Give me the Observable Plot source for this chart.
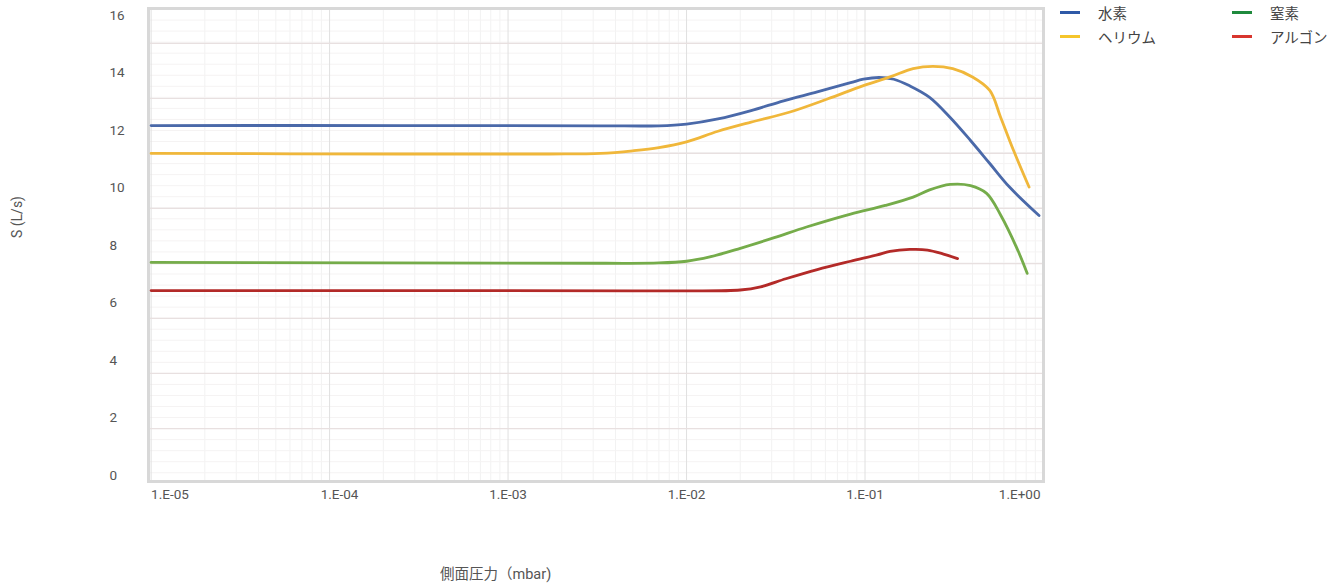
<!DOCTYPE html>
<html>
<head>
<meta charset="utf-8">
<script src="https://cdn.jsdelivr.net/npm/d3@7"></script>
<script src="https://cdn.jsdelivr.net/npm/@observablehq/plot@0.6"></script>
<style>
  body { margin: 0; background: #fff; font-family: Roboto, "Noto Sans CJK JP", sans-serif; }
  #wrap { position: relative; width: 1342px; height: 587px; overflow: hidden; }
  #wrap svg { position: absolute; left: 0; top: 0; }
  .key { position: absolute; font-size: 14.5px; color: #444; display: flex; align-items: center; white-space: nowrap; }
  .key i { display: inline-block; width: 20px; height: 3px; margin-right: 18px; }
  .ytitle { position: absolute; left: 17px; top: 217px; transform: translate(-50%, -50%) rotate(-90deg); font-size: 14px; color: #555; white-space: nowrap; }
  .xtitle { position: absolute; left: 440px; top: 562px; font-size: 14.5px; color: #555; white-space: nowrap; }
</style>
</head>
<body>
<div id="wrap"></div>
<script>
// Gas species and their colours (curve colour, legend key colour)
const gases = ["水素", "ヘリウム", "窒素", "アルゴン"];
const lineColors = ["#4a69a9", "#f0b73a", "#75ac4a", "#b32a28"];
const keyColors = ["#2f59a7", "#f5c52b", "#1f8a3d", "#d8352e"];

// Pumping speed S (L/s) against side pressure (mbar)
const pressureH2 = [1e-5, 2.5e-4, 3.3e-3, 7e-3, 0.01, 0.015, 0.023, 0.035, 0.054, 0.083, 0.098, 0.12, 0.145, 0.178, 0.23, 0.30, 0.39, 0.50, 0.645, 0.944];
const speedH2    = [12.17, 12.17, 12.16, 12.16, 12.22, 12.4, 12.69, 13.03, 13.34, 13.66, 13.78, 13.84, 13.78, 13.55, 13.15, 12.45, 11.65, 10.85, 10.03, 9.04];

const pressureHe = [1e-5, 2.5e-4, 1.7e-3, 3.3e-3, 5e-3, 7e-3, 0.01, 0.015, 0.023, 0.038, 0.062, 0.098, 0.138, 0.186, 0.24, 0.31, 0.40, 0.50, 0.575, 0.68, 0.83];
const speedHe    = [11.2, 11.18, 11.18, 11.2, 11.29, 11.4, 11.6, 11.97, 12.29, 12.64, 13.1, 13.56, 13.86, 14.15, 14.23, 14.15, 13.86, 13.39, 12.46, 11.3, 10.03];

const pressureN2 = [1e-5, 3.3e-3, 7e-3, 0.01, 0.0135, 0.02, 0.031, 0.047, 0.083, 0.13, 0.186, 0.23, 0.30, 0.39, 0.48, 0.575, 0.71, 0.81];
const speedN2    = [7.41, 7.38, 7.39, 7.45, 7.6, 7.9, 8.27, 8.64, 9.09, 9.39, 9.68, 9.93, 10.12, 10.08, 9.81, 9.06, 7.9, 7.03];

const pressureAr = [1e-5, 1e-3, 5e-3, 0.01, 0.02, 0.026, 0.036, 0.054, 0.083, 0.117, 0.138, 0.178, 0.224, 0.275, 0.33];
const speedAr    = [6.43, 6.43, 6.42, 6.42, 6.45, 6.56, 6.84, 7.16, 7.45, 7.67, 7.79, 7.86, 7.84, 7.7, 7.54];

// Axis ticks
const yTicks = [0, 2, 4, 6, 8, 10, 12, 14, 16];
const xTicks = [1e-5, 1e-4, 1e-3, 1e-2, 1e-1, 1];
const xTickLabels = ["1.E-05", "1.E-04", "1.E-03", "1.E-02", "1.E-01", "1.E+00"];

// Horizontal grid lines
const yGridMajor = [1.63, 3.55, 5.46, 7.37, 9.29, 11.2, 13.11, 15.03];

const series = [
  [pressureH2, speedH2],
  [pressureHe, speedHe],
  [pressureN2, speedN2],
  [pressureAr, speedAr]
];
const rows = series.flatMap(([ps, ss], i) => ps.map((p, j) => ({gas: gases[i], p, s: ss[j]})));

// minor log grid (2..9 in every decade) and minor horizontal grid
const xGridMinor = xTicks.slice(0, -1).flatMap(d => d3.range(2, 10).map(k => d * k));
const yStep = (yGridMajor[1] - yGridMajor[0]) / 5;
const yGridMinor = [];
for (let v = yGridMajor[0] - yStep * 4; v < 16.24; v += yStep) {
  if (!yGridMajor.some(m => Math.abs(m - v) < 1e-6) && v > -0.2) yGridMinor.push(v);
}

const fmt = d => xTickLabels[xTicks.indexOf(d)];
const axisStyle = {tickSize: 0, fontSize: 13.5, fill: "#555", label: null};

const chart = Plot.plot({
  width: 1342,
  height: 587,
  marginLeft: 148,
  marginRight: 299,
  marginTop: 8,
  marginBottom: 106,
  style: {fontFamily: "Roboto, 'Noto Sans CJK JP', sans-serif", background: "transparent"},
  x: {type: "log", domain: [9.67e-6, 1]},
  y: {domain: [-0.21, 16.24]},
  color: {domain: gases, range: lineColors},
  marks: [
    Plot.ruleX(xGridMinor, {stroke: "#f2f2f2", strokeWidth: 1}),
    Plot.ruleY(yGridMinor, {stroke: "#f5f3f3", strokeWidth: 1}),
    Plot.ruleX(xTicks, {stroke: "#e0e0e0", strokeWidth: 1}),
    Plot.ruleY(yGridMajor, {stroke: "#e8e0e0", strokeWidth: 1.2}),
    Plot.frame({stroke: "#d8d8d8", strokeWidth: 3}),
    Plot.axisY(yTicks, {...axisStyle, tickPadding: 39, textAnchor: "start"}),
    Plot.axisX([1e-5], {...axisStyle, tickPadding: 8, textAnchor: "start", tickFormat: fmt}),
    Plot.axisX([1e-4], {...axisStyle, tickPadding: 8, dx: 10, tickFormat: fmt}),
    Plot.axisX([1e-3, 1e-2, 1e-1], {...axisStyle, tickPadding: 8, tickFormat: fmt}),
    Plot.axisX([1], {...axisStyle, tickPadding: 8, textAnchor: "end", dx: -3, tickFormat: fmt}),
    Plot.line(rows, {x: "p", y: "s", z: "gas", stroke: "gas", strokeWidth: 2.8, curve: "catmull-rom"})
  ]
});

const wrap = document.getElementById("wrap");
wrap.appendChild(chart);

// Legend: two columns, two rows
const keyPos = [[1060, 2], [1060, 26], [1232, 2], [1232, 26]];
gases.forEach((g, i) => {
  const el = document.createElement("div");
  el.className = "key";
  el.style.left = keyPos[i][0] + "px";
  el.style.top = keyPos[i][1] + "px";
  el.innerHTML = `<i style="background:${keyColors[i]}"></i><span>${g}</span>`;
  wrap.appendChild(el);
});

const yt = document.createElement("div");
yt.className = "ytitle";
yt.textContent = "S (L/s)";
wrap.appendChild(yt);

const xt = document.createElement("div");
xt.className = "xtitle";
xt.textContent = "側面圧力（mbar)";
wrap.appendChild(xt);
</script>
</body>
</html>
